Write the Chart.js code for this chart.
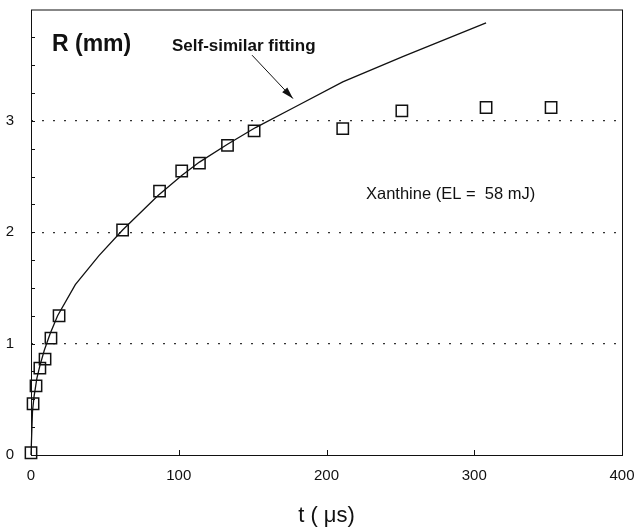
<!DOCTYPE html>
<html><head><meta charset="utf-8">
<script src="https://cdn.jsdelivr.net/npm/chart.js@4/dist/chart.umd.min.js"></script>
<style>html,body{margin:0;padding:0;background:#fff}#wrap{width:639px;height:529px}</style>
</head><body><div id="wrap"><canvas id="c" width="639" height="529"></canvas></div>
<script>
// Measured data (squares)
const tData = [0, 1.4, 3.4, 6, 9.5, 13.5, 19, 62, 87, 102, 114, 133, 151, 211, 251, 308, 352];
const rData = [0.02, 0.46, 0.62, 0.78, 0.86, 1.05, 1.25, 2.02, 2.37, 2.55, 2.62, 2.78, 2.91, 2.93, 3.09, 3.12, 3.12];
// Self-similar fitting curve
const tFit = [0, 1, 2, 4, 6, 9, 13, 18, 30, 46, 62, 86, 102, 114, 133, 152, 178, 211, 252, 308];
const rFit = [0, 0.39, 0.52, 0.69, 0.80, 0.94, 1.09, 1.25, 1.53, 1.79, 2.02, 2.33, 2.51, 2.63, 2.79, 2.94, 3.12, 3.35, 3.58, 3.88];
const xTicks = [0, 100, 200, 300, 400];
const yTicks = [0, 1, 2, 3];

const FONT = '"Liberation Sans", Arial, Helvetica, sans-serif';

const pts = (xs, ys) => xs.map((x, i) => ({x: x, y: ys[i]}));

const framePlugin = {
  id: 'frame',
  afterDatasetsDraw(chart) {
    const {ctx, chartArea: a, scales} = chart;
    const xs = scales.x, ys = scales.y;
    ctx.save();
    ctx.strokeStyle = '#111';
    ctx.lineWidth = 1;
    ctx.strokeRect(a.left + 0.5, a.top + 0.5, a.right - a.left, a.bottom - a.top);
    // minor inside ticks on y axis
    for (let v = 0.25; v < 4; v += 0.25) {
      const y = Math.round(ys.getPixelForValue(v)) + 0.5;
      ctx.beginPath(); ctx.moveTo(a.left, y); ctx.lineTo(a.left + 4, y); ctx.stroke();
    }
    // x inside ticks
    xTicks.slice(1, -1).forEach(v => {
      const x = Math.round(xs.getPixelForValue(v)) + 0.5;
      ctx.beginPath(); ctx.moveTo(x, a.bottom); ctx.lineTo(x, a.bottom - 5); ctx.stroke();
    });
    // annotations
    ctx.fillStyle = '#111';
    ctx.textBaseline = 'alphabetic';
    ctx.textAlign = 'left';
    ctx.font = 'bold 23px ' + FONT;
    ctx.fillText('R (mm)', xs.getPixelForValue(14.2), ys.getPixelForValue(3.63));
    ctx.font = 'bold 17px ' + FONT;
    ctx.fillText('Self-similar fitting', xs.getPixelForValue(95.4), ys.getPixelForValue(3.63));
    ctx.font = '16.5px ' + FONT;
    ctx.fillText('Xanthine (EL =  58 mJ)', xs.getPixelForValue(226.7), ys.getPixelForValue(2.30));
    // arrow
    const x1 = xs.getPixelForValue(149.6), y1 = ys.getPixelForValue(3.59);
    const x2 = xs.getPixelForValue(177.3), y2 = ys.getPixelForValue(3.20);
    ctx.lineWidth = 1;
    ctx.beginPath(); ctx.moveTo(x1, y1); ctx.lineTo(x2, y2); ctx.stroke();
    const ang = Math.atan2(y2 - y1, x2 - x1);
    const L = 12, W = 3.5;
    ctx.beginPath();
    ctx.moveTo(x2, y2);
    ctx.lineTo(x2 - L * Math.cos(ang) + W * Math.sin(ang), y2 - L * Math.sin(ang) - W * Math.cos(ang));
    ctx.lineTo(x2 - L * Math.cos(ang) - W * Math.sin(ang), y2 - L * Math.sin(ang) + W * Math.cos(ang));
    ctx.closePath(); ctx.fill();
    ctx.restore();
  }
};

const noPad = s => { s.paddingLeft = 0; s.paddingRight = 0; s.paddingTop = 0; s.paddingBottom = 0; };

new Chart(document.getElementById('c'), {
  type: 'scatter',
  data: {
    datasets: [
      {
        label: 'Self-similar fitting',
        data: pts(tFit, rFit),
        showLine: true,
        borderColor: '#111',
        borderWidth: 1.3,
        pointRadius: 0,
        tension: 0,
        clip: false,
        order: 2
      },
      {
        label: 'Xanthine',
        data: pts(tData, rData),
        pointStyle: 'rect',
        pointRadius: 8,
        pointBorderWidth: 1.5,
        pointBorderColor: '#111',
        pointBackgroundColor: 'rgba(0,0,0,0)',
        showLine: false,
        clip: false,
        order: 1
      }
    ]
  },
  options: {
    responsive: false,
    animation: false,
    layout: {padding: {top: 9, right: 17, left: 0, bottom: 0}},
    plugins: {legend: {display: false}, tooltip: {enabled: false}},
    scales: {
      x: {
        type: 'linear', min: 0, max: 400,
        afterBuildTicks: s => { s.ticks = xTicks.map(v => ({value: v})); },
        afterFit: s => { s.height = 74; noPad(s); },
        grid: {display: false, drawTicks: false},
        border: {display: false},
        ticks: {color: '#111', font: {family: FONT, size: 15}, padding: 12, maxRotation: 0},
        title: {display: true, text: 't ( μs)', color: '#111', font: {family: FONT, size: 22}, padding: {top: 7, bottom: 0}}
      },
      y: {
        type: 'linear', min: 0, max: 4,
        afterBuildTicks: s => { s.ticks = yTicks.map(v => ({value: v})); },
        afterFit: s => { s.width = 31; noPad(s); },
        grid: {
          drawTicks: false,
          color: c => (c.tick && c.tick.value > 0) ? '#333' : 'rgba(0,0,0,0)',
          lineWidth: 1.3
        },
        border: {display: false, dash: [2, 9]},
        ticks: {color: '#111', font: {family: FONT, size: 15}, padding: 17}
      }
    }
  },
  plugins: [framePlugin]
});
</script>
</body></html>
